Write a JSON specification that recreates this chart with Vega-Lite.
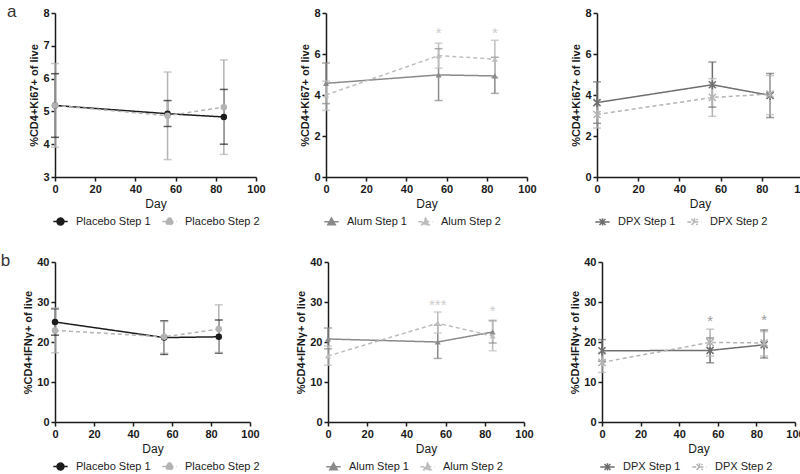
{
  "$schema": "https://vega.github.io/schema/vega-lite/v6.json",
  "padding": {"left": 0, "top": 3, "right": 0, "bottom": 0},
  "background": "white",
  "config": {
    "font": "Liberation Sans",
    "view": {"stroke": null},
    "axis": {"grid": false, "domainColor": "#1a1a1a", "domainWidth": 1.5, "tickColor": "#1a1a1a", "tickWidth": 1.5, "tickSize": 4, "labelFontSize": 11, "labelFontWeight": "bold", "labelColor": "#1a1a1a", "titleColor": "#1a1a1a", "labelPadding": 2, "labelOverlap": false, "labelBound": false},
    "axisX": {"titleFontWeight": "normal", "titleFontSize": 12, "titlePadding": 4, "labelFlush": false},
    "axisY": {"titleFontWeight": "bold", "titleFontSize": 11, "titlePadding": 3},
    "legend": {"orient": "bottom", "direction": "horizontal", "labelFontSize": 11, "labelColor": "#222222", "symbolSize": 36, "symbolStrokeWidth": 1.5, "symbolOpacity": 1, "columnPadding": 8, "labelOffset": 10, "offset": 7, "padding": 0},
    "title": {"font": "Liberation Sans"}
  },
  "datasets": {
    "d": [
      {"panel": "K-P", "group": "Placebo Step 1", "day": 0, "mean": 5.18, "lo": 4.21, "hi": 6.15},
      {"panel": "K-P", "group": "Placebo Step 1", "day": 56, "mean": 4.93, "lo": 4.54, "hi": 5.33},
      {"panel": "K-P", "group": "Placebo Step 1", "day": 84, "mean": 4.83, "lo": 4.0, "hi": 5.67},
      {"panel": "K-P", "group": "Placebo Step 2", "day": 0, "mean": 5.18, "lo": 3.91, "hi": 6.46},
      {"panel": "K-P", "group": "Placebo Step 2", "day": 56, "mean": 4.87, "lo": 3.53, "hi": 6.2},
      {"panel": "K-P", "group": "Placebo Step 2", "day": 84, "mean": 5.13, "lo": 3.69, "hi": 6.57},
      {"panel": "K-A", "group": "Alum Step 1", "day": 0, "mean": 4.57, "lo": 3.58, "hi": 5.56},
      {"panel": "K-A", "group": "Alum Step 1", "day": 56, "mean": 4.98, "lo": 3.73, "hi": 6.26},
      {"panel": "K-A", "group": "Alum Step 1", "day": 84, "mean": 4.93, "lo": 4.08, "hi": 5.84},
      {"panel": "K-A", "group": "Alum Step 2", "day": 0, "mean": 4.0, "lo": 3.25, "hi": 4.68},
      {"panel": "K-A", "group": "Alum Step 2", "day": 56, "mean": 5.92, "lo": 5.31, "hi": 6.53, "star": "*", "sy": 7.15},
      {"panel": "K-A", "group": "Alum Step 2", "day": 84, "mean": 5.75, "lo": 4.85, "hi": 6.67, "star": "*", "sy": 7.15},
      {"panel": "K-D", "group": "DPX Step 1", "day": 0, "mean": 3.63, "lo": 2.62, "hi": 4.64},
      {"panel": "K-D", "group": "DPX Step 1", "day": 56, "mean": 4.5, "lo": 3.41, "hi": 5.61},
      {"panel": "K-D", "group": "DPX Step 1", "day": 84, "mean": 3.98, "lo": 2.9, "hi": 5.05},
      {"panel": "K-D", "group": "DPX Step 2", "day": 0, "mean": 3.05, "lo": 2.39, "hi": 3.72},
      {"panel": "K-D", "group": "DPX Step 2", "day": 56, "mean": 3.88, "lo": 2.96, "hi": 4.8},
      {"panel": "K-D", "group": "DPX Step 2", "day": 84, "mean": 4.05, "lo": 3.04, "hi": 4.95},
      {"panel": "I-P", "group": "Placebo Step 1", "day": 0, "mean": 25.0, "lo": 21.7, "hi": 28.3},
      {"panel": "I-P", "group": "Placebo Step 1", "day": 56, "mean": 21.1, "lo": 16.9, "hi": 25.3},
      {"panel": "I-P", "group": "Placebo Step 1", "day": 84, "mean": 21.3, "lo": 17.2, "hi": 25.5},
      {"panel": "I-P", "group": "Placebo Step 2", "day": 0, "mean": 22.9, "lo": 17.3, "hi": 28.5},
      {"panel": "I-P", "group": "Placebo Step 2", "day": 56, "mean": 21.3, "lo": 17.2, "hi": 25.1},
      {"panel": "I-P", "group": "Placebo Step 2", "day": 84, "mean": 23.25, "lo": 17.4, "hi": 29.3},
      {"panel": "I-A", "group": "Alum Step 1", "day": 0, "mean": 20.75, "lo": 18.3, "hi": 23.5},
      {"panel": "I-A", "group": "Alum Step 1", "day": 56, "mean": 20.0, "lo": 15.9, "hi": 24.2},
      {"panel": "I-A", "group": "Alum Step 1", "day": 84, "mean": 22.5, "lo": 19.75, "hi": 25.4},
      {"panel": "I-A", "group": "Alum Step 2", "day": 0, "mean": 16.5, "lo": 14.2, "hi": 19.0},
      {"panel": "I-A", "group": "Alum Step 2", "day": 56, "mean": 24.7, "lo": 22.25, "hi": 27.5, "star": "***", "sy": 30.0},
      {"panel": "I-A", "group": "Alum Step 2", "day": 84, "mean": 21.5, "lo": 17.8, "hi": 25.2, "star": "*", "sy": 28.6},
      {"panel": "I-D", "group": "DPX Step 1", "day": 0, "mean": 17.8, "lo": 15.2, "hi": 20.6},
      {"panel": "I-D", "group": "DPX Step 1", "day": 56, "mean": 17.9, "lo": 14.8, "hi": 21.0},
      {"panel": "I-D", "group": "DPX Step 1", "day": 84, "mean": 19.3, "lo": 16.0, "hi": 23.0},
      {"panel": "I-D", "group": "DPX Step 2", "day": 0, "mean": 14.9, "lo": 12.4, "hi": 17.4},
      {"panel": "I-D", "group": "DPX Step 2", "day": 56, "mean": 19.9, "lo": 16.5, "hi": 23.2, "star": "*", "sy": 26.0},
      {"panel": "I-D", "group": "DPX Step 2", "day": 84, "mean": 19.75, "lo": 16.5, "hi": 22.6, "star": "*", "sy": 26.2}
    ]
  },
  "spacing": 23,
  "resolve": {"scale": {"x": "independent", "y": "independent", "color": "independent", "shape": "independent", "strokeDash": "independent"}, "legend": {"color": "independent", "shape": "independent", "strokeDash": "independent"}},
  "vconcat": [
    {
      "title": {"text": "a", "anchor": "start", "frame": "bounds", "fontSize": 17, "fontWeight": "normal", "color": "#333333", "offset": -14, "dx": -22},
      "spacing": 33,
      "resolve": {"scale": {"x": "independent", "y": "independent", "color": "independent", "shape": "independent", "strokeDash": "independent"}, "legend": {"color": "independent", "shape": "independent", "strokeDash": "independent"}},
      "hconcat": [
        {
          "width": 201, "height": 164,
          "data": {"name": "d"},
          "transform": [{"filter": "datum.panel === 'K-P'"}],
          "layer": [
            {"mark": {"type": "line", "strokeWidth": 1.5},
             "encoding": {
               "x": {"field": "day", "type": "quantitative", "scale": {"domain": [0, 100], "nice": false}, "axis": {"values": [0, 20, 40, 60, 80, 100], "tickCount": 20, "format": "d", "labelOverlap": false, "title": "Day"}},
               "y": {"field": "mean", "type": "quantitative", "scale": {"domain": [3, 8], "zero": false, "nice": false}, "axis": {"values": [3, 4, 5, 6, 7, 8], "tickCount": 20, "format": "d", "labelOverlap": false, "title": "%CD4+Ki67+ of live"}},
               "color": {"field": "group", "type": "nominal", "scale": {"domain": ["Placebo Step 1", "Placebo Step 2"], "range": ["#1c1c1c", "#b3b3b3"]}, "legend": {"title": null, "symbolType": "M-2.4,0H2.4M1.15,0A1.15,1.15,0,1,1,-1.15,0A1.15,1.15,0,1,1,1.15,0Z"}},
               "strokeDash": {"field": "group", "type": "nominal", "scale": {"domain": ["Placebo Step 1", "Placebo Step 2"], "range": [[1, 0], [4, 3]]}, "legend": {"title": null}}
             }},
            {"mark": {"type": "rule", "strokeWidth": 1.5},
             "encoding": {"x": {"field": "day", "type": "quantitative"}, "y": {"field": "lo", "type": "quantitative"}, "y2": {"field": "hi"}, "color": {"field": "group", "type": "nominal"}}},
            {"mark": {"type": "tick", "orient": "horizontal", "size": 8, "thickness": 1.5},
             "encoding": {"x": {"field": "day", "type": "quantitative"}, "y": {"field": "lo", "type": "quantitative"}, "color": {"field": "group", "type": "nominal"}}},
            {"mark": {"type": "tick", "orient": "horizontal", "size": 8, "thickness": 1.5},
             "encoding": {"x": {"field": "day", "type": "quantitative"}, "y": {"field": "hi", "type": "quantitative"}, "color": {"field": "group", "type": "nominal"}}},
            {"mark": {"type": "point", "filled": true, "opacity": 1, "size": 42},
             "encoding": {"x": {"field": "day", "type": "quantitative"}, "y": {"field": "mean", "type": "quantitative"}, "color": {"field": "group", "type": "nominal"}, "shape": {"field": "group", "type": "nominal", "scale": {"range": ["circle", "circle"]}, "legend": null}}}
          ]
        },
        {
          "width": 201, "height": 164,
          "data": {"name": "d"},
          "transform": [{"filter": "datum.panel === 'K-A'"}],
          "layer": [
            {"mark": {"type": "line", "strokeWidth": 1.5},
             "encoding": {
               "x": {"field": "day", "type": "quantitative", "scale": {"domain": [0, 100], "nice": false}, "axis": {"values": [0, 20, 40, 60, 80, 100], "tickCount": 20, "format": "d", "labelOverlap": false, "title": "Day"}},
               "y": {"field": "mean", "type": "quantitative", "scale": {"domain": [0, 8], "nice": false}, "axis": {"values": [0, 2, 4, 6, 8], "tickCount": 20, "format": "d", "labelOverlap": false, "title": "%CD4+Ki67+ of live"}},
               "color": {"field": "group", "type": "nominal", "scale": {"domain": ["Alum Step 1", "Alum Step 2"], "range": ["#8a8a8a", "#bdbdbd"]}, "legend": {"title": null, "symbolType": "M-2.4,0H2.4M0,-1.25L1.25,0.95L-1.25,0.95Z"}},
               "strokeDash": {"field": "group", "type": "nominal", "scale": {"domain": ["Alum Step 1", "Alum Step 2"], "range": [[1, 0], [4, 3]]}, "legend": {"title": null}}
             }},
            {"mark": {"type": "rule", "strokeWidth": 1.5},
             "encoding": {"x": {"field": "day", "type": "quantitative"}, "y": {"field": "lo", "type": "quantitative"}, "y2": {"field": "hi"}, "color": {"field": "group", "type": "nominal"}}},
            {"mark": {"type": "tick", "orient": "horizontal", "size": 8, "thickness": 1.5},
             "encoding": {"x": {"field": "day", "type": "quantitative"}, "y": {"field": "lo", "type": "quantitative"}, "color": {"field": "group", "type": "nominal"}}},
            {"mark": {"type": "tick", "orient": "horizontal", "size": 8, "thickness": 1.5},
             "encoding": {"x": {"field": "day", "type": "quantitative"}, "y": {"field": "hi", "type": "quantitative"}, "color": {"field": "group", "type": "nominal"}}},
            {"mark": {"type": "point", "filled": true, "opacity": 1, "size": 36},
             "encoding": {"x": {"field": "day", "type": "quantitative"}, "y": {"field": "mean", "type": "quantitative"}, "color": {"field": "group", "type": "nominal"}, "shape": {"field": "group", "type": "nominal", "scale": {"range": ["triangle-up", "triangle-up"]}, "legend": null}}},
            {"transform": [{"filter": "isValid(datum.star)"}],
             "mark": {"type": "text", "fontSize": 15, "baseline": "middle", "dy": 3, "color": "#cccccc"},
             "encoding": {"x": {"field": "day", "type": "quantitative"}, "y": {"field": "sy", "type": "quantitative"}, "text": {"field": "star"}}}
          ]
        },
        {
          "width": 206, "height": 164,
          "data": {"name": "d"},
          "transform": [{"filter": "datum.panel === 'K-D'"}],
          "layer": [
            {"mark": {"type": "line", "strokeWidth": 1.5},
             "encoding": {
               "x": {"field": "day", "type": "quantitative", "scale": {"domain": [0, 100], "nice": false}, "axis": {"values": [0, 20, 40, 60, 80, 100], "tickCount": 20, "format": "d", "labelOverlap": false, "title": "Day"}},
               "y": {"field": "mean", "type": "quantitative", "scale": {"domain": [0, 8], "nice": false}, "axis": {"values": [0, 2, 4, 6, 8], "tickCount": 20, "format": "d", "labelOverlap": false, "title": "%CD4+Ki67+ of live"}},
               "color": {"field": "group", "type": "nominal", "scale": {"domain": ["DPX Step 1", "DPX Step 2"], "range": ["#6e6e6e", "#b3b3b3"]}, "legend": {"title": null, "symbolType": "M-2.4,0H2.4M-1,-1L1,1M-1,1L1,-1M0,-1.2V1.2"}},
               "strokeDash": {"field": "group", "type": "nominal", "scale": {"domain": ["DPX Step 1", "DPX Step 2"], "range": [[1, 0], [4, 3]]}, "legend": {"title": null}}
             }},
            {"mark": {"type": "rule", "strokeWidth": 1.5},
             "encoding": {"x": {"field": "day", "type": "quantitative"}, "y": {"field": "lo", "type": "quantitative"}, "y2": {"field": "hi"}, "color": {"field": "group", "type": "nominal"}}},
            {"mark": {"type": "tick", "orient": "horizontal", "size": 8, "thickness": 1.5},
             "encoding": {"x": {"field": "day", "type": "quantitative"}, "y": {"field": "lo", "type": "quantitative"}, "color": {"field": "group", "type": "nominal"}}},
            {"mark": {"type": "tick", "orient": "horizontal", "size": 8, "thickness": 1.5},
             "encoding": {"x": {"field": "day", "type": "quantitative"}, "y": {"field": "hi", "type": "quantitative"}, "color": {"field": "group", "type": "nominal"}}},
            {"mark": {"type": "point", "filled": false, "opacity": 1, "size": 50, "strokeWidth": 1.5},
             "encoding": {"x": {"field": "day", "type": "quantitative"}, "y": {"field": "mean", "type": "quantitative"}, "color": {"field": "group", "type": "nominal"}, "shape": {"field": "group", "type": "nominal", "scale": {"range": ["M-1,-1L1,1M-1,1L1,-1M0,-1.3V1.3", "M-1,-1L1,1M-1,1L1,-1M0,-1.3V1.3"]}, "legend": null}}}
          ]
        }
      ]
    },
    {
      "title": {"text": "b", "anchor": "start", "frame": "bounds", "fontSize": 17, "fontWeight": "normal", "color": "#333333", "offset": -14, "dx": -22},
      "spacing": 35,
      "resolve": {"scale": {"x": "independent", "y": "independent", "color": "independent", "shape": "independent", "strokeDash": "independent"}, "legend": {"color": "independent", "shape": "independent", "strokeDash": "independent"}},
      "hconcat": [
        {
          "width": 195, "height": 160,
          "data": {"name": "d"},
          "transform": [{"filter": "datum.panel === 'I-P'"}],
          "layer": [
            {"mark": {"type": "line", "strokeWidth": 1.5},
             "encoding": {
               "x": {"field": "day", "type": "quantitative", "scale": {"domain": [0, 100], "nice": false}, "axis": {"values": [0, 20, 40, 60, 80, 100], "tickCount": 20, "format": "d", "labelOverlap": false, "title": "Day"}},
               "y": {"field": "mean", "type": "quantitative", "scale": {"domain": [0, 40], "nice": false}, "axis": {"values": [0, 10, 20, 30, 40], "tickCount": 20, "format": "d", "labelOverlap": false, "title": "%CD4+IFNγ+ of live"}},
               "color": {"field": "group", "type": "nominal", "scale": {"domain": ["Placebo Step 1", "Placebo Step 2"], "range": ["#1c1c1c", "#b3b3b3"]}, "legend": {"title": null, "symbolType": "M-2.4,0H2.4M1.15,0A1.15,1.15,0,1,1,-1.15,0A1.15,1.15,0,1,1,1.15,0Z"}},
               "strokeDash": {"field": "group", "type": "nominal", "scale": {"domain": ["Placebo Step 1", "Placebo Step 2"], "range": [[1, 0], [4, 3]]}, "legend": {"title": null}}
             }},
            {"mark": {"type": "rule", "strokeWidth": 1.5},
             "encoding": {"x": {"field": "day", "type": "quantitative"}, "y": {"field": "lo", "type": "quantitative"}, "y2": {"field": "hi"}, "color": {"field": "group", "type": "nominal"}}},
            {"mark": {"type": "tick", "orient": "horizontal", "size": 8, "thickness": 1.5},
             "encoding": {"x": {"field": "day", "type": "quantitative"}, "y": {"field": "lo", "type": "quantitative"}, "color": {"field": "group", "type": "nominal"}}},
            {"mark": {"type": "tick", "orient": "horizontal", "size": 8, "thickness": 1.5},
             "encoding": {"x": {"field": "day", "type": "quantitative"}, "y": {"field": "hi", "type": "quantitative"}, "color": {"field": "group", "type": "nominal"}}},
            {"mark": {"type": "point", "filled": true, "opacity": 1, "size": 42},
             "encoding": {"x": {"field": "day", "type": "quantitative"}, "y": {"field": "mean", "type": "quantitative"}, "color": {"field": "group", "type": "nominal"}, "shape": {"field": "group", "type": "nominal", "scale": {"range": ["circle", "circle"]}, "legend": null}}}
          ]
        },
        {
          "width": 196, "height": 160,
          "data": {"name": "d"},
          "transform": [{"filter": "datum.panel === 'I-A'"}],
          "layer": [
            {"mark": {"type": "line", "strokeWidth": 1.5},
             "encoding": {
               "x": {"field": "day", "type": "quantitative", "scale": {"domain": [0, 100], "nice": false}, "axis": {"values": [0, 20, 40, 60, 80, 100], "tickCount": 20, "format": "d", "labelOverlap": false, "title": "Day"}},
               "y": {"field": "mean", "type": "quantitative", "scale": {"domain": [0, 40], "nice": false}, "axis": {"values": [0, 10, 20, 30, 40], "tickCount": 20, "format": "d", "labelOverlap": false, "title": "%CD4+IFNγ+ of live"}},
               "color": {"field": "group", "type": "nominal", "scale": {"domain": ["Alum Step 1", "Alum Step 2"], "range": ["#8a8a8a", "#bdbdbd"]}, "legend": {"title": null, "symbolType": "M-2.4,0H2.4M0,-1.25L1.25,0.95L-1.25,0.95Z"}},
               "strokeDash": {"field": "group", "type": "nominal", "scale": {"domain": ["Alum Step 1", "Alum Step 2"], "range": [[1, 0], [4, 3]]}, "legend": {"title": null}}
             }},
            {"mark": {"type": "rule", "strokeWidth": 1.5},
             "encoding": {"x": {"field": "day", "type": "quantitative"}, "y": {"field": "lo", "type": "quantitative"}, "y2": {"field": "hi"}, "color": {"field": "group", "type": "nominal"}}},
            {"mark": {"type": "tick", "orient": "horizontal", "size": 8, "thickness": 1.5},
             "encoding": {"x": {"field": "day", "type": "quantitative"}, "y": {"field": "lo", "type": "quantitative"}, "color": {"field": "group", "type": "nominal"}}},
            {"mark": {"type": "tick", "orient": "horizontal", "size": 8, "thickness": 1.5},
             "encoding": {"x": {"field": "day", "type": "quantitative"}, "y": {"field": "hi", "type": "quantitative"}, "color": {"field": "group", "type": "nominal"}}},
            {"mark": {"type": "point", "filled": true, "opacity": 1, "size": 36},
             "encoding": {"x": {"field": "day", "type": "quantitative"}, "y": {"field": "mean", "type": "quantitative"}, "color": {"field": "group", "type": "nominal"}, "shape": {"field": "group", "type": "nominal", "scale": {"range": ["triangle-up", "triangle-up"]}, "legend": null}}},
            {"transform": [{"filter": "isValid(datum.star)"}],
             "mark": {"type": "text", "fontSize": 15, "baseline": "middle", "dy": 3, "color": "#cccccc"},
             "encoding": {"x": {"field": "day", "type": "quantitative"}, "y": {"field": "sy", "type": "quantitative"}, "text": {"field": "star"}}}
          ]
        },
        {
          "width": 193, "height": 160,
          "data": {"name": "d"},
          "transform": [{"filter": "datum.panel === 'I-D'"}],
          "layer": [
            {"mark": {"type": "line", "strokeWidth": 1.5},
             "encoding": {
               "x": {"field": "day", "type": "quantitative", "scale": {"domain": [0, 100], "nice": false}, "axis": {"values": [0, 20, 40, 60, 80, 100], "tickCount": 20, "format": "d", "labelOverlap": false, "title": "Day"}},
               "y": {"field": "mean", "type": "quantitative", "scale": {"domain": [0, 40], "nice": false}, "axis": {"values": [0, 10, 20, 30, 40], "tickCount": 20, "format": "d", "labelOverlap": false, "title": "%CD4+IFNγ+ of live"}},
               "color": {"field": "group", "type": "nominal", "scale": {"domain": ["DPX Step 1", "DPX Step 2"], "range": ["#6e6e6e", "#b3b3b3"]}, "legend": {"title": null, "symbolType": "M-2.4,0H2.4M-1,-1L1,1M-1,1L1,-1M0,-1.2V1.2"}},
               "strokeDash": {"field": "group", "type": "nominal", "scale": {"domain": ["DPX Step 1", "DPX Step 2"], "range": [[1, 0], [4, 3]]}, "legend": {"title": null}}
             }},
            {"mark": {"type": "rule", "strokeWidth": 1.5},
             "encoding": {"x": {"field": "day", "type": "quantitative"}, "y": {"field": "lo", "type": "quantitative"}, "y2": {"field": "hi"}, "color": {"field": "group", "type": "nominal"}}},
            {"mark": {"type": "tick", "orient": "horizontal", "size": 8, "thickness": 1.5},
             "encoding": {"x": {"field": "day", "type": "quantitative"}, "y": {"field": "lo", "type": "quantitative"}, "color": {"field": "group", "type": "nominal"}}},
            {"mark": {"type": "tick", "orient": "horizontal", "size": 8, "thickness": 1.5},
             "encoding": {"x": {"field": "day", "type": "quantitative"}, "y": {"field": "hi", "type": "quantitative"}, "color": {"field": "group", "type": "nominal"}}},
            {"mark": {"type": "point", "filled": false, "opacity": 1, "size": 50, "strokeWidth": 1.5},
             "encoding": {"x": {"field": "day", "type": "quantitative"}, "y": {"field": "mean", "type": "quantitative"}, "color": {"field": "group", "type": "nominal"}, "shape": {"field": "group", "type": "nominal", "scale": {"range": ["M-1,-1L1,1M-1,1L1,-1M0,-1.3V1.3", "M-1,-1L1,1M-1,1L1,-1M0,-1.3V1.3"]}, "legend": null}}},
            {"transform": [{"filter": "isValid(datum.star)"}],
             "mark": {"type": "text", "fontSize": 15, "baseline": "middle", "dy": 3, "color": "#9e9e9e"},
             "encoding": {"x": {"field": "day", "type": "quantitative"}, "y": {"field": "sy", "type": "quantitative"}, "text": {"field": "star"}}}
          ]
        }
      ]
    }
  ]
}
